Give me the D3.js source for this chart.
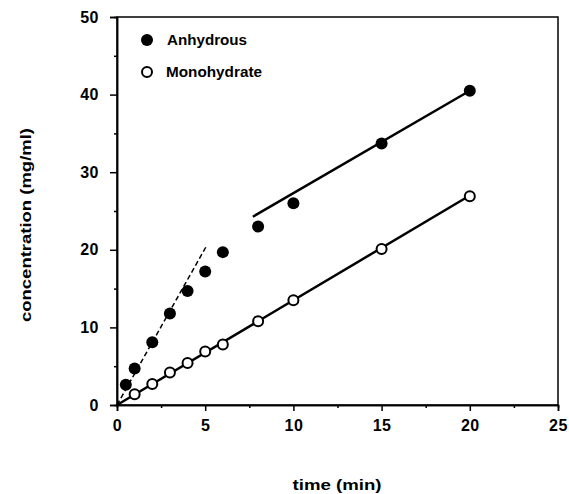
<!DOCTYPE html>
<html>
<head>
<meta charset="utf-8">
<script src="https://cdn.jsdelivr.net/npm/d3@7"></script>
<style>
  body { margin: 0; background: #fff; }
  svg text { font-family: "Liberation Sans", Arial, sans-serif; font-weight: bold; fill: #000; }
</style>
</head>
<body>
<svg width="569" height="494"></svg>
<script>
// anhydrous (filled circles)
var anhTime = [0.5, 1, 2, 3, 4, 5, 6, 8, 10, 15, 20];
var anhConc = [2.6, 4.7, 8.1, 11.8, 14.7, 17.2, 19.7, 23.0, 26.0, 33.7, 40.5];
// monohydrate (open circles)
var monoTime = [1, 2, 3, 4, 5, 6, 8, 10, 15, 20];
var monoConc = [1.4, 2.7, 4.2, 5.4, 6.9, 7.8, 10.8, 13.5, 20.1, 26.9];

// fitted lines: [x start, x end, intercept, slope]
var anhInitialFit = [0, 5.1, 0, 4.04];
var anhLateFit = [7.7, 20, 14.1, 1.32];
var monoFit = [0, 20, 0, 1.35];

var xTicks = [0, 5, 10, 15, 20, 25];
var yTicks = [0, 10, 20, 30, 40, 50];
var xMinor = [2.5, 7.5, 12.5, 17.5, 22.5];
var yMinor = [5, 15, 25, 35, 45];

var margin = {top: 17, right: 11, bottom: 89, left: 117};
var svg = d3.select("svg");
var width = 569 - margin.left - margin.right;
var height = 494 - margin.top - margin.bottom;

var x = d3.scaleLinear().domain([0, 25]).range([0, width]);
var y = d3.scaleLinear().domain([0, 50]).range([height, 0]);

var g = svg.append("g")
    .attr("transform", "translate(" + margin.left + "," + margin.top + ")");

// frame
g.append("rect")
    .attr("width", width).attr("height", height)
    .attr("fill", "none").attr("stroke", "#000").attr("stroke-width", 1.5);

// axes
var xAxis = g.append("g")
    .attr("transform", "translate(0," + height + ")")
    .call(d3.axisBottom(x).tickValues(xTicks).tickSize(6).tickPadding(9).tickFormat(d3.format("d")));
var xMin = g.append("g")
    .attr("transform", "translate(0," + height + ")")
    .call(d3.axisBottom(x).tickValues(xMinor).tickSize(3).tickFormat(""));
var yAxis = g.append("g")
    .call(d3.axisLeft(y).tickValues(yTicks).tickSize(7).tickPadding(11).tickFormat(d3.format("d")));
var yMin = g.append("g")
    .call(d3.axisLeft(y).tickValues(yMinor).tickSize(3).tickFormat(""));

[xAxis, xMin, yAxis, yMin].forEach(function (a) {
    a.select(".domain").attr("stroke-width", 1.5);
    a.selectAll(".tick line").attr("stroke-width", 1.5);
    a.selectAll("text").attr("font-size", 16).attr("letter-spacing", 0.5)
        .attr("font-family", "Liberation Sans, Arial, sans-serif").attr("font-weight", "bold");
});

// lines
function fitLine(f) {
    return [[f[0], f[2] + f[3] * f[0]], [f[1], f[2] + f[3] * f[1]]];
}
var line = d3.line().x(function (d) { return x(d[0]); }).y(function (d) { return y(d[1]); });

g.append("path").datum(fitLine(anhInitialFit))
    .attr("d", line).attr("fill", "none").attr("stroke", "#000")
    .attr("stroke-width", 1.5).attr("stroke-dasharray", "5,3");
g.append("path").datum(fitLine(anhLateFit))
    .attr("d", line).attr("fill", "none").attr("stroke", "#000").attr("stroke-width", 2.5);
g.append("path").datum(fitLine(monoFit))
    .attr("d", line).attr("fill", "none").attr("stroke", "#000").attr("stroke-width", 2.5);

// points
g.selectAll(".anh")
    .data(anhTime)
  .enter().append("circle")
    .attr("class", "anh")
    .attr("cx", function (d) { return x(d); })
    .attr("cy", function (d, i) { return y(anhConc[i]); })
    .attr("r", 6)
    .attr("fill", "#000");

g.selectAll(".mono")
    .data(monoTime)
  .enter().append("circle")
    .attr("class", "mono")
    .attr("cx", function (d) { return x(d); })
    .attr("cy", function (d, i) { return y(monoConc[i]); })
    .attr("r", 5)
    .attr("fill", "#fff")
    .attr("stroke", "#000")
    .attr("stroke-width", 2);

// legend
var legend = svg.append("g");
legend.append("circle").attr("cx", 147).attr("cy", 40).attr("r", 6).attr("fill", "#000");
legend.append("text").attr("x", 167).attr("y", 45).attr("font-size", 14)
    .attr("textLength", 80).attr("lengthAdjust", "spacingAndGlyphs").text("Anhydrous");
legend.append("circle").attr("cx", 147).attr("cy", 72).attr("r", 5)
    .attr("fill", "#fff").attr("stroke", "#000").attr("stroke-width", 2);
legend.append("text").attr("x", 166).attr("y", 77).attr("font-size", 14)
    .attr("textLength", 96).attr("lengthAdjust", "spacingAndGlyphs").text("Monohydrate");

// axis titles
svg.append("text")
    .attr("x", 337).attr("y", 490)
    .attr("text-anchor", "middle").attr("font-size", 14)
    .attr("textLength", 89).attr("lengthAdjust", "spacingAndGlyphs")
    .text("time (min)");
svg.append("text")
    .attr("transform", "translate(31,225) rotate(-90)")
    .attr("text-anchor", "middle").attr("font-size", 14)
    .attr("textLength", 194).attr("lengthAdjust", "spacingAndGlyphs")
    .text("concentration (mg/ml)");
</script>
</body>
</html>
